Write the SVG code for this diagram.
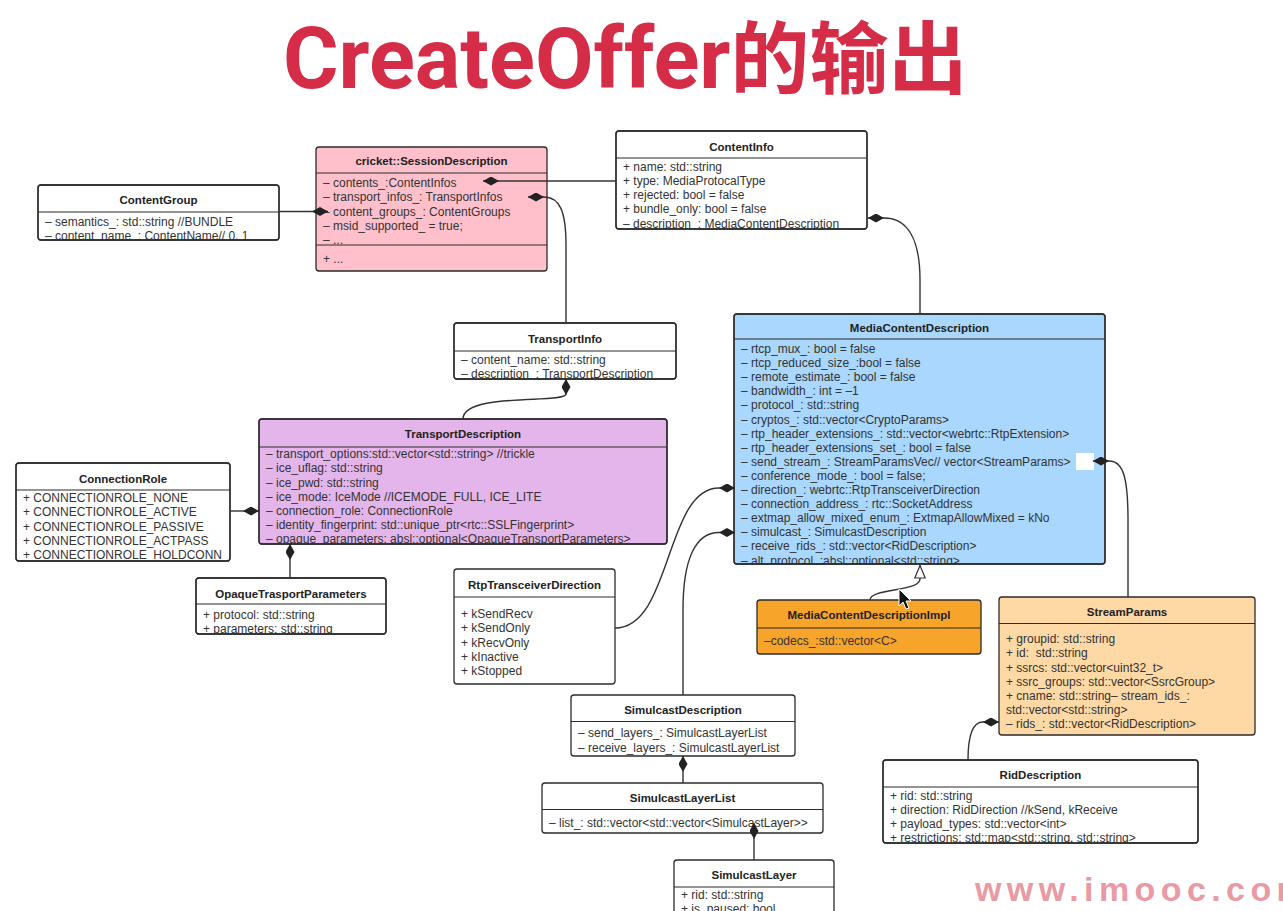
<svg xmlns="http://www.w3.org/2000/svg" width="1283" height="911" viewBox="0 0 1283 911">
<style>
.box{stroke:#2b2b2b;stroke-width:1.3}
.dv{stroke:#2b2b2b;stroke-width:1.2}
.hd{font-family:"Liberation Sans",Arial,sans-serif;font-size:11.5px;font-weight:bold;fill:#222;text-anchor:middle}
.r{font-family:"Liberation Sans",Arial,sans-serif;font-size:12px;fill:#333;white-space:pre}
.ln{fill:none;stroke:#333;stroke-width:1.4}
</style>
<defs>
<marker id="dm" viewBox="0 0 16 9" refX="0" refY="4.5" markerWidth="16" markerHeight="9" markerUnits="userSpaceOnUse" orient="auto"><path d="M0,4.5 L8,0 L16,4.5 L8,9 Z" fill="#222"/></marker>
<marker id="tri" viewBox="0 0 14 12" refX="0" refY="6" markerWidth="14" markerHeight="12" markerUnits="userSpaceOnUse" orient="auto"><path d="M0.5,6 L13,0.8 L13,11.2 Z" fill="#fff" stroke="#333" stroke-width="1.2"/></marker>
<clipPath id="c-sd"><rect x="316" y="173" width="231" height="72"/></clipPath>
<clipPath id="c-cg"><rect x="38" y="185" width="241" height="55"/></clipPath>
<clipPath id="c-ci"><rect x="616" y="131" width="251" height="98"/></clipPath>
<clipPath id="c-ti"><rect x="454" y="323" width="222" height="56"/></clipPath>
<clipPath id="c-td"><rect x="259" y="419" width="408" height="125"/></clipPath>
<clipPath id="c-cr"><rect x="16" y="463" width="214" height="98"/></clipPath>
<clipPath id="c-ot"><rect x="196" y="578" width="190" height="56"/></clipPath>
<clipPath id="c-mcd"><rect x="734" y="314" width="371" height="250"/></clipPath>
<clipPath id="c-rid"><rect x="883" y="760" width="315" height="83"/></clipPath>
</defs>
<rect width="1283" height="911" fill="#fff"/>

<text x="283" y="88" fill="#d52d48" font-weight="bold"><tspan font-family="Roboto,'Liberation Sans',sans-serif" font-size="85">CreateOffer</tspan><tspan font-family="'Noto Sans CJK SC',sans-serif" font-size="79">的输出</tspan></text>

<g id="SessionDescription">
<rect class="box" x="316" y="147" width="231" height="124" rx="3" fill="#ffc0cb"/>
<line class="dv" x1="316" y1="173" x2="547" y2="173"/>
<line class="dv" x1="316" y1="245" x2="547" y2="245"/>
<text class="hd" x="431.5" y="165">cricket::SessionDescription</text>
<g clip-path="url(#c-sd)">
<text class="r" x="323" y="187">– contents_:ContentInfos</text>
<text class="r" x="323" y="201">– transport_infos_: TransportInfos</text>
<text class="r" x="323" y="215.5">– content_groups_: ContentGroups</text>
<text class="r" x="323" y="229.5">– msid_supported_ = true;</text>
<text class="r" x="323" y="243.5">– ...</text>
</g>
<text class="r" x="323" y="263">+ ...</text>
</g>

<g id="ContentGroup">
<rect class="box" x="38" y="185" width="241" height="55" rx="3" fill="#fff"/>
<line class="dv" x1="38" y1="212" x2="279" y2="212"/>
<text class="hd" x="158.5" y="204">ContentGroup</text>
<g clip-path="url(#c-cg)">
<text class="r" x="45" y="225.5">– semantics_: std::string //BUNDLE</text>
<text class="r" x="45" y="239.7">– content_name_: ContentName// 0, 1</text>
</g>
<rect x="38" y="185" width="241" height="55" rx="3" fill="none" class="box"/>
</g>

<g id="ContentInfo">
<rect class="box" x="616" y="131" width="251" height="98" rx="3" fill="#fff"/>
<line class="dv" x1="616" y1="158" x2="867" y2="158"/>
<text class="hd" x="741.5" y="150.5">ContentInfo</text>
<g clip-path="url(#c-ci)">
<text class="r" x="623" y="171">+ name: std::string</text>
<text class="r" x="623" y="185">+ type: MediaProtocalType</text>
<text class="r" x="623" y="199">+ rejected: bool = false</text>
<text class="r" x="623" y="213">+ bundle_only: bool = false</text>
<text class="r" x="623" y="228">– description_: MediaContentDescription</text>
</g>
<rect x="616" y="131" width="251" height="98" rx="3" fill="none" class="box"/>
</g>

<g id="TransportInfo">
<rect class="box" x="454" y="323" width="222" height="56" rx="3" fill="#fff"/>
<line class="dv" x1="454" y1="351" x2="676" y2="351"/>
<text class="hd" x="565" y="342.5">TransportInfo</text>
<g clip-path="url(#c-ti)">
<text class="r" x="461" y="363.5">– content_name: std::string</text>
<text class="r" x="461" y="377.7">– description_: TransportDescription</text>
</g>
<rect x="454" y="323" width="222" height="56" rx="3" fill="none" class="box"/>
</g>

<g id="TransportDescription">
<rect class="box" x="259" y="419" width="408" height="125" rx="3" fill="#e4b5ea"/>
<line class="dv" x1="259" y1="447" x2="667" y2="447"/>
<text class="hd" x="463" y="438">TransportDescription</text>
<g clip-path="url(#c-td)">
<text class="r" x="266" y="458.3">– transport_options:std::vector&lt;std::string&gt; //trickle</text>
<text class="r" x="266" y="472.4">– ice_uflag: std::string</text>
<text class="r" x="266" y="486.5">– ice_pwd: std::string</text>
<text class="r" x="266" y="500.6">– ice_mode: IceMode //ICEMODE_FULL, ICE_LITE</text>
<text class="r" x="266" y="514.7">– connection_role: ConnectionRole</text>
<text class="r" x="266" y="528.8">– identity_fingerprint: std::unique_ptr&lt;rtc::SSLFingerprint&gt;</text>
<text class="r" x="266" y="542.9">– opaque_parameters: absl::optional&lt;OpaqueTransportParameters&gt;</text>
</g>
<rect x="259" y="419" width="408" height="125" rx="3" fill="none" class="box"/>
</g>

<g id="ConnectionRole">
<rect class="box" x="16" y="463" width="214" height="98" rx="3" fill="#fff"/>
<line class="dv" x1="16" y1="490" x2="230" y2="490"/>
<text class="hd" x="123" y="483">ConnectionRole</text>
<g clip-path="url(#c-cr)">
<text class="r" x="23" y="502.3">+ CONNECTIONROLE_NONE</text>
<text class="r" x="23" y="516.4">+ CONNECTIONROLE_ACTIVE</text>
<text class="r" x="23" y="530.5">+ CONNECTIONROLE_PASSIVE</text>
<text class="r" x="23" y="544.6">+ CONNECTIONROLE_ACTPASS</text>
<text class="r" x="23" y="558.7">+ CONNECTIONROLE_HOLDCONN</text>
</g>
<rect x="16" y="463" width="214" height="98" rx="3" fill="none" class="box"/>
</g>

<g id="OpaqueTrasportParameters">
<rect class="box" x="196" y="578" width="190" height="56" rx="3" fill="#fff"/>
<line class="dv" x1="196" y1="604" x2="386" y2="604"/>
<text class="hd" x="291" y="597.5">OpaqueTrasportParameters</text>
<g clip-path="url(#c-ot)">
<text class="r" x="203" y="619">+ protocol: std::string</text>
<text class="r" x="203" y="633">+ parameters: std::string</text>
</g>
<rect x="196" y="578" width="190" height="56" rx="3" fill="none" class="box"/>
</g>

<g id="MediaContentDescription">
<rect class="box" x="734" y="314" width="371" height="250" rx="3" fill="#a9d7fd"/>
<line class="dv" x1="734" y1="339" x2="1105" y2="339"/>
<text class="hd" x="919.5" y="331.5">MediaContentDescription</text>
<g clip-path="url(#c-mcd)">
<text class="r" x="741" y="353">– rtcp_mux_: bool = false</text>
<text class="r" x="741" y="367.1">– rtcp_reduced_size_:bool = false</text>
<text class="r" x="741" y="381.2">– remote_estimate_: bool = false</text>
<text class="r" x="741" y="395.3">– bandwidth_: int = –1</text>
<text class="r" x="741" y="409.4">– protocol_: std::string</text>
<text class="r" x="741" y="423.5">– cryptos_: std::vector&lt;CryptoParams&gt;</text>
<text class="r" x="741" y="437.6">– rtp_header_extensions_: std::vector&lt;webrtc::RtpExtension&gt;</text>
<text class="r" x="741" y="451.7">– rtp_header_extensions_set_: bool = false</text>
<text class="r" x="741" y="465.8">– send_stream_: StreamParamsVec// vector&lt;StreamParams&gt;</text>
<text class="r" x="741" y="479.9">– conference_mode_: bool = false;</text>
<text class="r" x="741" y="494">– direction_: webrtc::RtpTransceiverDirection</text>
<text class="r" x="741" y="508.1">– connection_address_: rtc::SocketAddress</text>
<text class="r" x="741" y="522.2">– extmap_allow_mixed_enum_: ExtmapAllowMixed = kNo</text>
<text class="r" x="741" y="536.3">– simulcast_: SimulcastDescription</text>
<text class="r" x="741" y="550.4">– receive_rids_: std::vector&lt;RidDescription&gt;</text>
<text class="r" x="741" y="564.5">– alt_protocol_:absl::optional&lt;std::string&gt;</text>
</g>
<rect x="734" y="314" width="371" height="250" rx="3" fill="none" class="box"/>
<rect x="1076" y="453" width="18" height="17" fill="#fff"/>
</g>

<g id="MediaContentDescriptionImpl">
<rect class="box" x="757" y="600" width="224" height="54" rx="3" fill="#f7a42b"/>
<line class="dv" x1="757" y1="628" x2="981" y2="628"/>
<text class="hd" x="869" y="619">MediaContentDescriptionImpl</text>
<text class="r" x="764" y="645">–codecs_:std::vector&lt;C&gt;</text>
</g>

<g id="RtpTransceiverDirection">
<rect class="box" x="454" y="569" width="161" height="115" rx="3" fill="#fff"/>
<line class="dv" x1="454" y1="597" x2="615" y2="597"/>
<text class="hd" x="534.5" y="588.5">RtpTransceiverDirection</text>
<text class="r" x="461" y="618">+ kSendRecv</text>
<text class="r" x="461" y="632.3">+ kSendOnly</text>
<text class="r" x="461" y="646.6">+ kRecvOnly</text>
<text class="r" x="461" y="660.9">+ kInactive</text>
<text class="r" x="461" y="675.2">+ kStopped</text>
</g>

<g id="StreamParams">
<rect class="box" x="999" y="597" width="256" height="138" rx="3" fill="#fed9a6"/>
<line class="dv" x1="999" y1="623.5" x2="1255" y2="623.5"/>
<text class="hd" x="1127" y="615.5">StreamParams</text>
<text class="r" x="1006" y="643.3">+ groupid: std::string</text>
<text class="r" x="1006" y="657.4" xml:space="preserve">+ id:  std::string</text>
<text class="r" x="1006" y="671.6">+ ssrcs: std::vector&lt;uint32_t&gt;</text>
<text class="r" x="1006" y="685.7">+ ssrc_groups: std::vector&lt;SsrcGroup&gt;</text>
<text class="r" x="1006" y="699.9">+ cname: std::string– stream_ids_:</text>
<text class="r" x="1006" y="714">std::vector&lt;std::string&gt;</text>
<text class="r" x="1006" y="728.2">– rids_: std::vector&lt;RidDescription&gt;</text>
</g>

<g id="SimulcastDescription">
<rect class="box" x="571" y="695" width="224" height="61" rx="3" fill="#fff"/>
<line class="dv" x1="571" y1="721.5" x2="795" y2="721.5"/>
<text class="hd" x="683" y="714">SimulcastDescription</text>
<text class="r" x="578" y="737.3">– send_layers_: SimulcastLayerList</text>
<text class="r" x="578" y="751.6">– receive_layers_: SimulcastLayerList</text>
</g>

<g id="SimulcastLayerList">
<rect class="box" x="542" y="783" width="281" height="50" rx="3" fill="#fff"/>
<line class="dv" x1="542" y1="809.5" x2="823" y2="809.5"/>
<text class="hd" x="682.5" y="801.7">SimulcastLayerList</text>
<text class="r" x="549" y="827.3">– list_: std::vector&lt;std::vector&lt;SimulcastLayer&gt;&gt;</text>
</g>

<g id="SimulcastLayer">
<rect class="box" x="674" y="860" width="160" height="70" rx="3" fill="#fff"/>
<line class="dv" x1="674" y1="887" x2="834" y2="887"/>
<text class="hd" x="754" y="879">SimulcastLayer</text>
<text class="r" x="681" y="899">+ rid: std::string</text>
<text class="r" x="681" y="913">+ is_paused: bool</text>
</g>

<g id="RidDescription">
<rect class="box" x="883" y="760" width="315" height="83" rx="3" fill="#fff"/>
<line class="dv" x1="883" y1="787" x2="1198" y2="787"/>
<text class="hd" x="1040.5" y="779">RidDescription</text>
<g clip-path="url(#c-rid)">
<text class="r" x="890" y="800">+ rid: std::string</text>
<text class="r" x="890" y="814">+ direction: RidDirection //kSend, kReceive</text>
<text class="r" x="890" y="828">+ payload_types: std::vector&lt;int&gt;</text>
<text class="r" x="890" y="842">+ restrictions: std::map&lt;std::string, std::string&gt;</text>
</g>
<rect x="883" y="760" width="315" height="83" rx="3" fill="none" class="box"/>
</g>

<g id="connectors">
<path class="ln" marker-start="url(#dm)" d="M328 211.5 L279 211.5"/>
<path class="ln" marker-start="url(#dm)" d="M483 181 L616 181"/>
<path class="ln" marker-start="url(#dm)" d="M528 197 L544 197 C560 197 566 212 566 245 L566 323"/>
<path class="ln" marker-start="url(#dm)" d="M868 218 L884 218 C908 218 920 240 920 280 L920 314"/>
<path class="ln" marker-start="url(#dm)" d="M566 379 L566 394 C566 404 463 392 463 419"/>
<path class="ln" marker-start="url(#dm)" d="M259 511 L230 511"/>
<path class="ln" marker-start="url(#dm)" d="M290 544 L290 578"/>
<path class="ln" marker-start="url(#dm)" d="M735 488 L719 488 C665 488 672 628 615 628"/>
<path class="ln" marker-start="url(#dm)" d="M735 532.5 L719 532.5 C695 532.5 683 560 683 610 L683 695"/>
<path class="ln" marker-start="url(#dm)" d="M683 756 L683 783"/>
<path class="ln" marker-start="url(#dm)" d="M754 823 L754 860"/>
<path class="ln" marker-start="url(#dm)" d="M1093 461 L1109 461 C1124 461 1128 480 1128 520 L1128 597"/>
<path class="ln" marker-start="url(#dm)" d="M999 722 L983 722 C973 722 968 735 968 760"/>
<path class="ln" marker-start="url(#tri)" d="M920 565 L920 579 C920 592 870 588 870 600"/>
</g>

<path d="M899 589 L899 606 L903 602 L906 609 L909 608 L906 601 L911 601 Z" fill="#111" stroke="#fff" stroke-width="1"/>

<text x="975" y="901" font-family="'Liberation Sans',Arial,sans-serif" font-size="34" font-weight="bold" fill="#e99aa4" letter-spacing="5.4">www.imooc.com</text>
</svg>
